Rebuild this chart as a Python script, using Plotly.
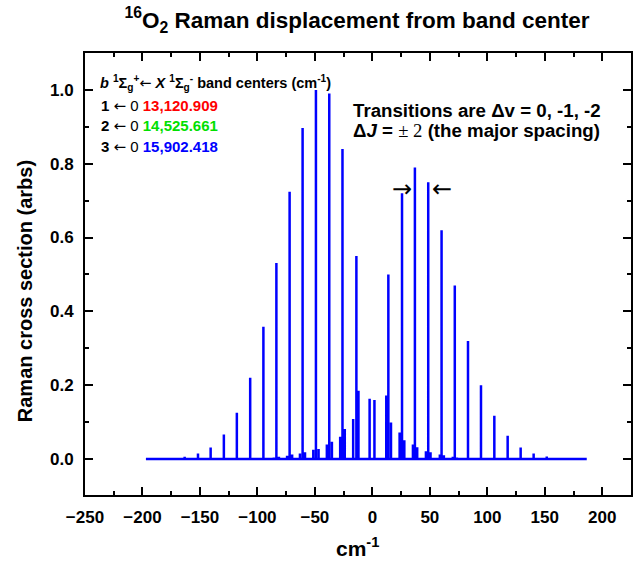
import plotly.graph_objects as go

# ---- data ----
main_pos = [-174.8, -163.3, -151.7, -140.7, -129.2, -117.9, -106.3, -94.8, -83.5, -72.0,
            -60.7, -49.1, -37.5, -26.0, -13.9, 13.9, 25.8, 37.0, 48.6, 60.2,
            71.7, 83.2, 94.5, 106.1, 117.7, 129.0, 140.3, 151.7, 163.3, 174.9]
main_int = [0.002, 0.006, 0.015, 0.031, 0.066, 0.125, 0.22, 0.358, 0.531, 0.724,
            0.897, 1.0, 0.99, 0.84, 0.55, 0.50, 0.72, 0.79, 0.75, 0.62,
            0.47, 0.32, 0.20, 0.117, 0.063, 0.031, 0.015, 0.007, 0.003, 0.001]

sat_pos = [-97.0, -92.6, -85.7, -81.3, -74.2, -69.8, -63.0, -58.6, -51.4, -46.8,
           -39.6, -35.2, -28.0, -24.0, -16.7, -12.1, -2.4, 1.8, 12.1, 16.2,
           23.7, 27.8, 35.3, 39.0, 46.6, 50.6, 58.7, 62.2, 70.0, 73.5, 81.5, 85.0]
sat_int = [0.002, 0.003, 0.004, 0.006, 0.009, 0.012, 0.015, 0.018, 0.025, 0.027,
           0.039, 0.047, 0.060, 0.081, 0.108, 0.185, 0.163, 0.160, 0.172, 0.099,
           0.072, 0.051, 0.039, 0.032, 0.021, 0.018, 0.012, 0.010, 0.006, 0.004, 0.003, 0.002]

spec_start = -197.0
spec_end = 186.5

band_upper = ["1", "2", "3"]
band_centers = ["13,120.909", "14,525.661", "15,902.418"]
band_colors = ["#FF0000", "#00E000", "#0000FF"]

# ---- build stick spectrum ----
sticks = sorted(zip(main_pos + sat_pos, main_int + sat_int))
xs = [spec_start]
ys = [0.0]
for p, h in sticks:
    xs += [p, p, p]
    ys += [0.0, h, 0.0]
xs.append(spec_end)
ys.append(0.0)

FONT = "Arial, 'Liberation Sans', sans-serif"
ARW = "<span style=\"font-family:DejaVu Sans;font-weight:normal\">\u2190</span>"

fig = go.Figure()
fig.add_trace(go.Scatter(x=xs, y=ys, mode="lines",
                         line=dict(color="#0000FF", width=2.5),
                         hoverinfo="skip", showlegend=False))

L, R, T, B = 85, 10, 53, 72
W, H = 643, 567
pw, ph = W - L - R, H - T - B

def px(x):
    return (x - L) / pw

def py(y):
    return (H - B - y) / ph

ann = []
# legend block
ann.append(dict(x=px(98), y=py(83), xref="paper", yref="paper", xanchor="left", yanchor="middle",
                text="<b><i>b</i> <sup>1</sup>\u03a3<sub>g</sub><sup>+</sup></b>" + ARW +
                     "<b> <i>X</i> <sup>1</sup>\u03a3<sub>g</sub><sup>-</sup> band centers (cm<sup>-1</sup>)</b>",
                showarrow=False, font=dict(family=FONT, size=14.5, color="black")))
for i, (n, val, col) in enumerate(zip(band_upper, band_centers, band_colors)):
    ann.append(dict(x=px(99), y=py(106 + i * 20.5), xref="paper", yref="paper",
                    xanchor="left", yanchor="middle",
                    text=f"<b>{n}</b> {ARW} 0 <b><span style='color:{col}'>{val}</span></b>",
                    showarrow=False, font=dict(family=FONT, size=15, color="black")))
# transitions text
ann.append(dict(x=px(352), y=py(110), xref="paper", yref="paper", xanchor="left", yanchor="middle",
                text="<b>Transitions are \u0394v = 0, -1, -2</b>",
                showarrow=False, font=dict(family=FONT, size=18.7, color="black")))
ann.append(dict(x=px(352), y=py(130), xref="paper", yref="paper", xanchor="left", yanchor="middle",
                text="<b>\u0394<i>J</i> = </b><span style=\"font-family:'Liberation Serif',serif\">\u00b1 2</span><b> (the major spacing)</b>",
                showarrow=False, font=dict(family=FONT, size=18.7, color="black")))
# spacing arrows
ann.append(dict(x=px(403), y=py(189), xref="paper", yref="paper", xanchor="center", yanchor="middle",
                text="\u2192", showarrow=False, font=dict(family="DejaVu Sans", size=24, color="black")))
ann.append(dict(x=px(443), y=py(189), xref="paper", yref="paper", xanchor="center", yanchor="middle",
                text="\u2190", showarrow=False, font=dict(family="DejaVu Sans", size=24, color="black")))
# axis titles
ann.append(dict(x=px(358), y=py(547), xref="paper", yref="paper", xanchor="center", yanchor="middle",
                text="<b>cm<sup>-1</sup></b>", showarrow=False,
                font=dict(family=FONT, size=21, color="black")))
ann.append(dict(x=px(25), y=py(291), xref="paper", yref="paper", xanchor="center", yanchor="middle",
                text="<b>Raman cross section (arbs)</b>", textangle=-90, showarrow=False,
                font=dict(family=FONT, size=20, color="black")))

axis_common = dict(showline=True, linecolor="black", linewidth=2, mirror="allticks",
                   ticks="inside", ticklen=8, tickwidth=2, tickcolor="black",
                   showgrid=False, zeroline=False,
                   tickfont=dict(family=FONT, size=17, color="black", weight="bold"))

fig.update_layout(
    width=W, height=H,
    margin=dict(l=L, r=R, t=T, b=B),
    paper_bgcolor="white", plot_bgcolor="white",
    title=dict(text="<b><sup>16</sup>O<sub>2</sub> Raman displacement from band center</b>",
               x=px(358), xref="paper", xanchor="center",
               y=1 - 20 / H, yref="container", yanchor="middle",
               font=dict(family=FONT, size=22.5, color="black")),
    xaxis=dict(range=[-250, 225], tick0=-250, dtick=50,
               minor=dict(ticks="inside", ticklen=4, tickwidth=2, tickcolor="black", dtick=25, tick0=-250),
               ticklabelstandoff=6, **axis_common),
    yaxis=dict(range=[-0.0976, 1.1], tick0=0, dtick=0.2, tickformat=".1f",
               minor=dict(ticks="inside", ticklen=4, tickwidth=2, tickcolor="black", dtick=0.1, tick0=0),
               ticklabelstandoff=6, **axis_common),
    annotations=ann,
    showlegend=False,
)
fig.write_html("out.html", config={"displayModeBar": False},
               post_script="document.body.style.margin='0';")
